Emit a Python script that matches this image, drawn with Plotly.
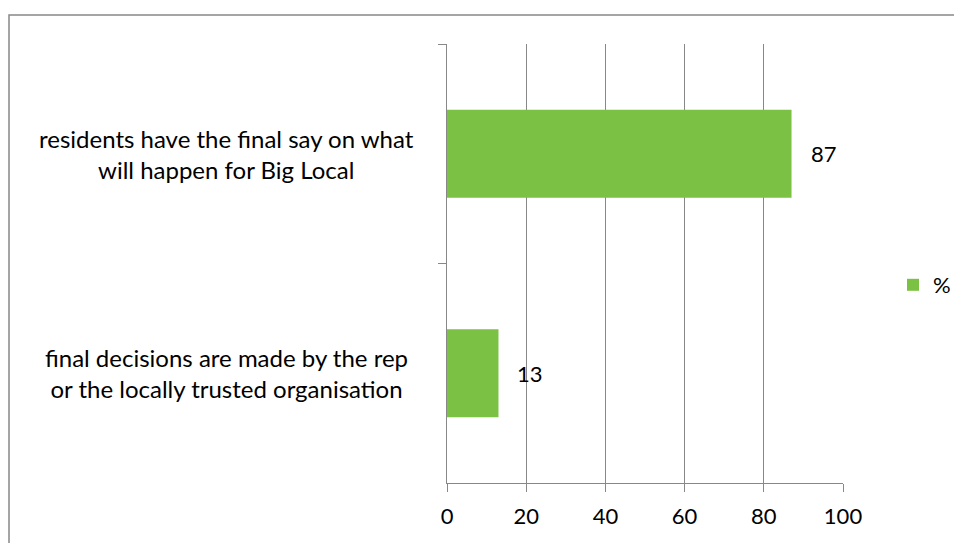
import plotly.graph_objects as go

categories = ["residents have the final say on what<br>will happen for Big Local",
              "final decisions are made by the rep<br>or the locally trusted organisation"]
values = [87, 13]
series_name = "%"
x_ticks = [0, 20, 40, 60, 80, 100]

W, H = 962, 543
OFF = 8  # page body margin
L, R, T, B = 447 - OFF, 843 - OFF, 44 - OFF, 483 - OFF
GRAY = "#888888"
GREEN = "#7BC143"
FONT = "Lato"

def px(x):
    return (x - OFF - L) / (R - L)

def py(y):
    return (B - (y - OFF)) / (B - T)

fig = go.Figure()
fig.add_trace(go.Bar(
    y=categories, x=values, orientation="h", name=series_name,
    marker=dict(color=GREEN, line=dict(width=0)),
    showlegend=True,
))

annotations = []
for c, v in zip(categories, values):
    annotations.append(dict(x=v, y=c, xref="x", yref="y", text=str(v), showarrow=False,
                            xanchor="left", xshift=17, font=dict(family=FONT, size=22, color="black")))
    annotations.append(dict(x=px(226), y=c, xref="paper", yref="y", text=c, showarrow=False,
                            xanchor="center", align="center",
                            font=dict(family=FONT, size=24, color="black")))

fig.update_layout(
    width=W, height=H,
    margin=dict(l=L, r=W - R, t=T, b=H - B, pad=0),
    paper_bgcolor="white", plot_bgcolor="white",
    bargap=0.6,
    font=dict(family=FONT, size=22, color="black"),
    xaxis=dict(range=[0, 100], tickvals=x_ticks, showgrid=True, gridcolor=GRAY, gridwidth=1,
               showline=True, linecolor=GRAY, linewidth=1, ticks="outside", ticklen=8,
               tickcolor=GRAY, zeroline=False, tickfont=dict(family=FONT, size=22),
               ticklabelstandoff=6, fixedrange=True),
    yaxis=dict(autorange="reversed", showticklabels=False, showline=True, linecolor=GRAY, linewidth=1,
               ticks="outside", ticklen=8, tickcolor=GRAY, tickson="boundaries", showgrid=False,
               zeroline=False),
    legend=dict(x=px(893), y=py(285), xanchor="left", yanchor="middle", font=dict(family=FONT, size=22),
                bgcolor="rgba(0,0,0,0)"),
    annotations=annotations,
    shapes=[dict(type="rect", xref="paper", yref="paper", x0=px(9), x1=px(985), y0=py(570), y1=py(15),
                 line=dict(color=GRAY, width=1.5), layer="below")],
)

fig.write_html("out.html")
